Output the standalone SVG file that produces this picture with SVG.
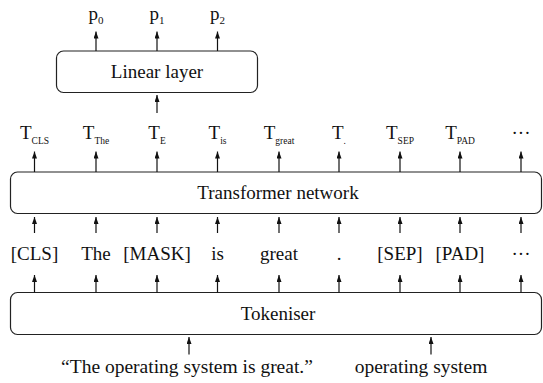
<svg xmlns="http://www.w3.org/2000/svg" width="543" height="383" viewBox="0 0 543 383">
<defs>
<marker id="ah" viewBox="0 0 7 5" refX="7" refY="2.5" markerWidth="7" markerHeight="5" markerUnits="userSpaceOnUse" orient="auto">
<path d="M0,0 L7,2.5 L0,5 Z" fill="#111"/>
</marker>
<style>
.box{fill:#fff;stroke:#222;stroke-width:1.2}
.t{font-family:"Liberation Serif","Times New Roman",serif;font-size:19px;fill:#111;text-anchor:middle}
.big{font-size:19.5px}
.sub{font-size:9.5px}
.psub{font-size:11px}
.c line{stroke:#111;stroke-width:1.2;marker-end:url(#ah)}
</style>
</defs>
<rect width="543" height="383" fill="#fff"/>
<g id="linear">
<rect class="box" x="56.5" y="51" width="201" height="41.5" rx="7"/>
<text class="t" x="157" y="78">Linear layer</text>
</g>
<g id="transformer">
<rect class="box" x="10.5" y="172" width="531" height="41.5" rx="7"/>
<text class="t" x="278" y="199">Transformer network</text>
</g>
<g id="tokeniser">
<rect class="box" x="10.5" y="292.5" width="531" height="42" rx="7"/>
<text class="t" x="278" y="320">Tokeniser</text>
</g>
<g id="outputs">
<text class="t" x="96" y="20">p<tspan class="psub" dy="4">0</tspan></text>
<text class="t" x="157" y="20">p<tspan class="psub" dy="4">1</tspan></text>
<text class="t" x="217.5" y="20">p<tspan class="psub" dy="4">2</tspan></text>
</g>
<g id="embeddings">
<text class="t" x="34.5" y="138.5">T<tspan class="sub" dy="5">CLS</tspan></text>
<text class="t" x="96" y="138.5">T<tspan class="sub" dy="5">The</tspan></text>
<text class="t" x="157" y="138.5">T<tspan class="sub" dy="5">E</tspan></text>
<text class="t" x="217.5" y="138.5">T<tspan class="sub" dy="5">is</tspan></text>
<text class="t" x="279" y="138.5">T<tspan class="sub" dy="5">great</tspan></text>
<text class="t" x="339" y="138.5">T<tspan class="sub" dy="5">.</tspan></text>
<text class="t" x="400" y="138.5">T<tspan class="sub" dy="5">SEP</tspan></text>
<text class="t" x="460" y="138.5">T<tspan class="sub" dy="5">PAD</tspan></text>
<text class="t" x="521" y="138.5">···</text>
</g>
<g id="tokens">
<text class="t" x="34.5" y="260">[CLS]</text>
<text class="t" x="96" y="260">The</text>
<text class="t" x="157" y="260">[MASK]</text>
<text class="t" x="217.5" y="260">is</text>
<text class="t" x="279" y="260">great</text>
<text class="t" x="339" y="260">.</text>
<text class="t" x="400" y="260">[SEP]</text>
<text class="t" x="460" y="260">[PAD]</text>
<text class="t" x="521" y="260">···</text>
</g>
<g id="inputs">
<text class="t big" x="187" y="373">“The operating system is great.”</text>
<text class="t big" x="421" y="373">operating system</text>
</g>
<g id="connectors" class="c">
<line x1="96" y1="51" x2="96" y2="31.5"/>
<line x1="157" y1="51" x2="157" y2="31.5"/>
<line x1="217.5" y1="51" x2="217.5" y2="31.5"/>
<line x1="157" y1="113" x2="157" y2="95"/>
<line x1="34.5" y1="172" x2="34.5" y2="151.5"/>
<line x1="96" y1="172" x2="96" y2="151.5"/>
<line x1="157" y1="172" x2="157" y2="151.5"/>
<line x1="217.5" y1="172" x2="217.5" y2="151.5"/>
<line x1="279" y1="172" x2="279" y2="151.5"/>
<line x1="339" y1="172" x2="339" y2="151.5"/>
<line x1="400" y1="172" x2="400" y2="151.5"/>
<line x1="460" y1="172" x2="460" y2="151.5"/>
<line x1="521" y1="172" x2="521" y2="151.5"/>
<line x1="34.5" y1="233" x2="34.5" y2="217"/>
<line x1="96" y1="233" x2="96" y2="217"/>
<line x1="157" y1="233" x2="157" y2="217"/>
<line x1="217.5" y1="233" x2="217.5" y2="217"/>
<line x1="279" y1="233" x2="279" y2="217"/>
<line x1="339" y1="233" x2="339" y2="217"/>
<line x1="400" y1="233" x2="400" y2="217"/>
<line x1="460" y1="233" x2="460" y2="217"/>
<line x1="521" y1="233" x2="521" y2="217"/>
<line x1="34.5" y1="292.5" x2="34.5" y2="275"/>
<line x1="96" y1="292.5" x2="96" y2="275"/>
<line x1="157" y1="292.5" x2="157" y2="275"/>
<line x1="217.5" y1="292.5" x2="217.5" y2="275"/>
<line x1="279" y1="292.5" x2="279" y2="275"/>
<line x1="339" y1="292.5" x2="339" y2="275"/>
<line x1="400" y1="292.5" x2="400" y2="275"/>
<line x1="460" y1="292.5" x2="460" y2="275"/>
<line x1="521" y1="292.5" x2="521" y2="275"/>
<line x1="189" y1="354.5" x2="189" y2="337"/>
<line x1="431" y1="354.5" x2="431" y2="337"/>
</g>
</svg>
